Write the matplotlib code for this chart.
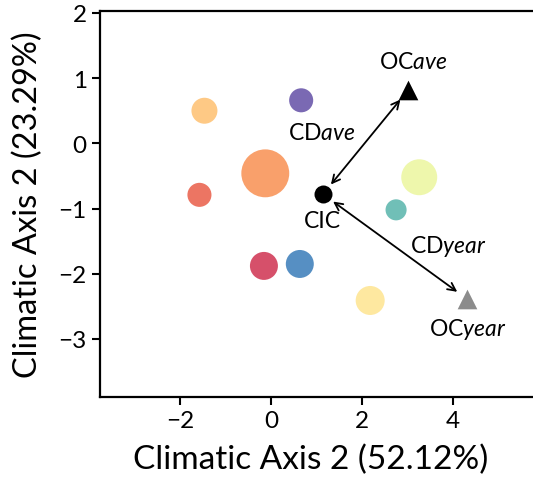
import matplotlib
matplotlib.use("Agg")
import matplotlib.pyplot as plt

plt.rcParams['font.family'] = ['Lato', 'DejaVu Sans']
plt.rcParams['mathtext.fontset'] = 'custom'
plt.rcParams['mathtext.rm'] = 'Lato'
plt.rcParams['mathtext.it'] = 'Lato:italic'

# climate groups (circles)
grp_x = [-1.47, -1.58, -0.13, 0.66, 3.26, 2.75, -0.16, 0.63, 2.18]
grp_y = [0.50, -0.79, -0.46, 0.66, -0.52, -1.02, -1.88, -1.85, -2.41]
grp_size = [350, 300, 1190, 300, 670, 230, 406, 406, 436]
grp_color = ['#fec985', '#ec7563', '#f9a06b', '#7a69b3', '#eef7ac',
             '#70bfb7', '#d6506a', '#568fc3', '#fee8a0']

# reference points
cic = (1.14, -0.78)
oc_ave = (3.02, 0.82)
oc_year = (4.32, -2.39)

fig = plt.figure(figsize=(5.33, 4.81), dpi=100)
ax = fig.add_axes([0.1876, 0.1726, 0.8324, 0.8025])

ax.scatter(grp_x, grp_y, s=grp_size, c=grp_color, linewidths=0, zorder=2)
ax.scatter([cic[0]], [cic[1]], s=168, c='black', linewidths=0, zorder=3)
ax.scatter([oc_ave[0]], [oc_ave[1]], s=200, marker='^', c='black', linewidths=0, zorder=3)
ax.scatter([oc_year[0]], [oc_year[1]], s=200, marker='^', c='#8c8c8c', linewidths=0, zorder=3)

arrow = dict(arrowstyle='<->', color='black', lw=1.3, shrinkA=9, shrinkB=9,
             mutation_scale=14)
ax.annotate('', xy=oc_ave, xytext=cic, arrowprops=arrow, zorder=1)
ax.annotate('', xy=oc_year, xytext=cic, arrowprops=arrow, zorder=1)

fs = 16.5
ax.text(3.12, 1.25, r'$\mathrm{OC}\mathit{ave}$', fontsize=fs, ha='center', va='center')
ax.text(1.12, 0.17, r'$\mathrm{CD}\mathit{ave}$', fontsize=fs, ha='center', va='center')
ax.text(1.12, -1.19, 'CIC', fontsize=fs, ha='center', va='center')
ax.text(3.9, -1.57, r'$\mathrm{CD}\mathit{year}$', fontsize=fs, ha='center', va='center')
ax.text(4.32, -2.84, r'$\mathrm{OC}\mathit{year}$', fontsize=fs, ha='center', va='center')

ax.set_xlim(-3.77, 6.0)
ax.set_ylim(-3.89, 2.03)
ax.set_xticks([-2, 0, 2, 4])
ax.set_yticks([-3, -2, -1, 0, 1, 2])
ax.tick_params(labelsize=17.5, width=1.5, length=6)
for sp in ax.spines.values():
    sp.set_linewidth(1.6)

ax.set_xlabel('Climatic Axis 2 (52.12%)', fontsize=24)
ax.set_ylabel('Climatic Axis 2 (23.29%)', fontsize=23.5)
ax.xaxis.set_label_coords(0.4755, -0.122)
ax.yaxis.set_label_coords(-0.128, 0.5)

fig.savefig('out.png', dpi=100)
